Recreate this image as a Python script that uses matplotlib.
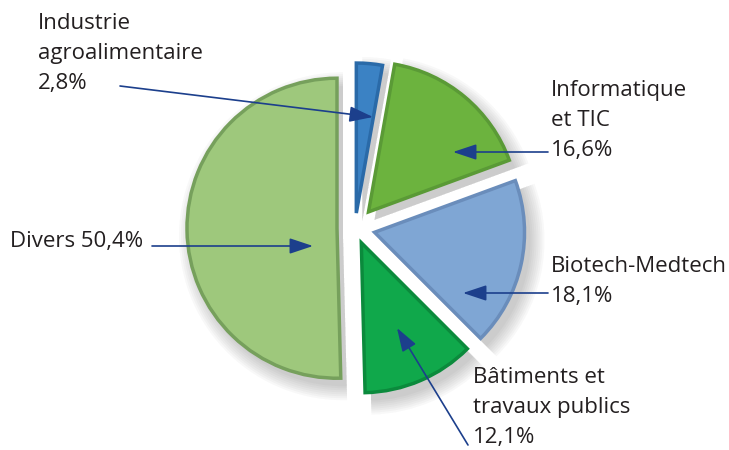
import matplotlib.pyplot as plt

categories = ["Industrie\nagroalimentaire", "Informatique\net TIC", "Biotech-Medtech",
              "Bâtiments et\ntravaux publics", "Divers"]
values = [2.8, 16.6, 18.1, 12.1, 50.4]
value_labels = ["2,8%", "16,6%", "18,1%", "12,1%", "50,4%"]

colors = ["#3b82c4", "#6cb33e", "#7fa6d4", "#10a84b", "#9ec87c"]
edge_colors = ["#2a6aa8", "#5a9a36", "#6a8dbb", "#0b8a3c", "#76a05c"]
explode = [15, 21, 20, 16, 18]  # pixels

W, H = 729, 450
fig = plt.figure(figsize=(W / 100, H / 100), dpi=100)
ax = fig.add_axes([0, 0, 1, 1])
cx, cy, R = 355, H - 228, 150

# soft shadow
for k in range(8):
    ax.pie(values, explode=explode, startangle=90, counterclock=False,
           center=(cx + 6, cy - 8), radius=R + 14 - 2 * k,
           colors=["#404040"] * len(values),
           wedgeprops=dict(linewidth=0, alpha=0.035))

wedges, _ = ax.pie(values, explode=explode, startangle=90, counterclock=False,
                   center=(cx, cy), radius=R, colors=colors,
                   wedgeprops=dict(linewidth=2.5))
for w, ec in zip(wedges, edge_colors):
    w.set_edgecolor(ec)
    w.set_joinstyle("miter")

ax.set_xlim(0, W)
ax.set_ylim(0, H)
ax.set_aspect("equal")
ax.axis("off")

font = dict(family="Open Sans", fontsize=16, color="#231f20", linespacing=1.55)
arrow_color = "#1c3f8c"

# label text positions (pixel coords from top) and arrow start / end
label_layout = [
    ((38, 13), (120, 86), (373, 117)),
    ((551, 80), (548, 152), (453, 152)),
    ((551, 256), (548, 293), (463, 293)),
    ((473, 367), (468, 445), (397, 328)),
    ((10, 231), (152, 246), (313, 246)),
]
for name, val, (tpos, start, tip) in zip(categories, value_labels, label_layout):
    text = f"{name} {val}" if name == "Divers" else f"{name}\n{val}"
    ax.text(tpos[0], H - tpos[1], text, ha="left", va="top", **font)
    ax.annotate("", xy=(tip[0], H - tip[1]), xytext=(start[0], H - start[1]),
                arrowprops=dict(arrowstyle="-|>,head_length=0.9,head_width=0.3",
                                color=arrow_color, lw=1.2, shrinkA=0, shrinkB=0,
                                mutation_scale=16))

fig.savefig("out.png", dpi=100)
